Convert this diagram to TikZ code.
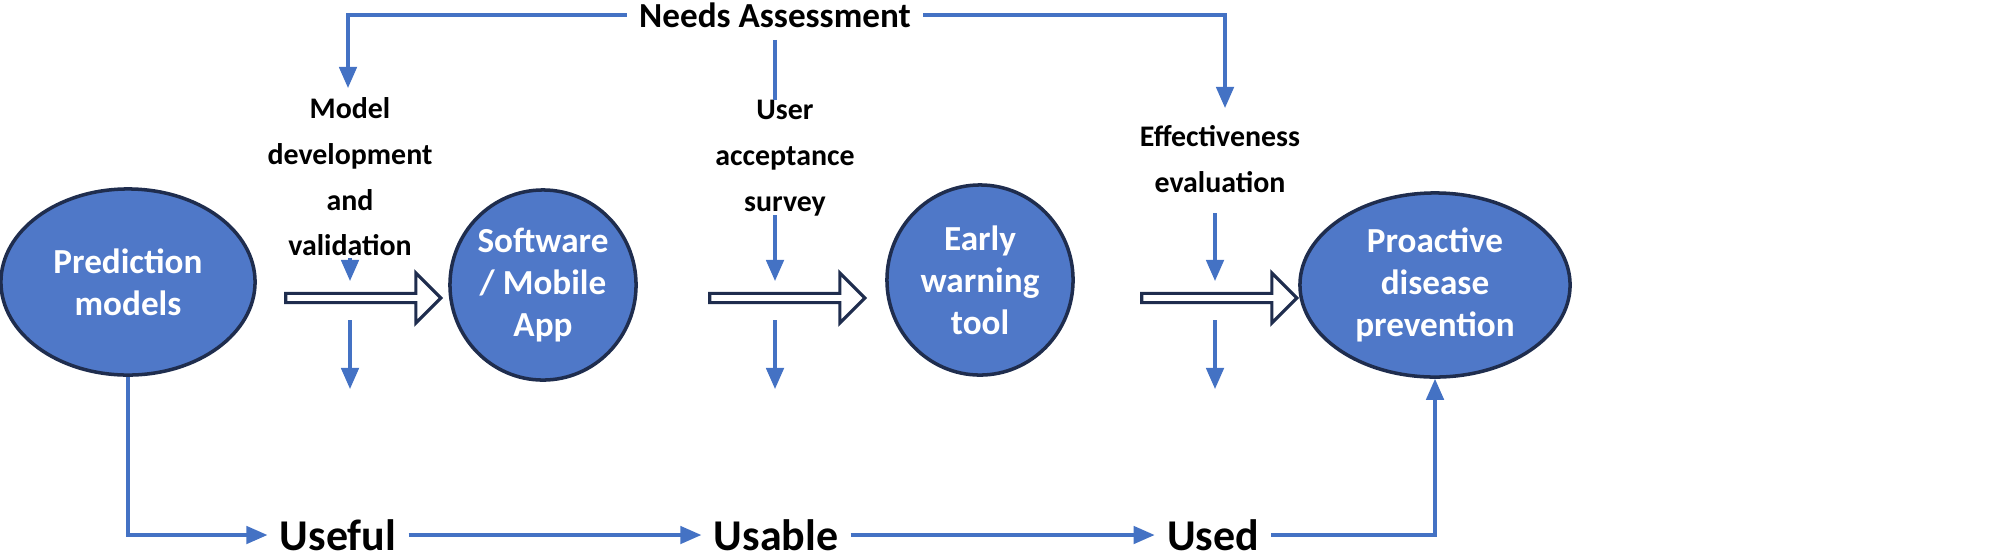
\documentclass[tikz,border=0pt]{standalone}
\usepackage{fontspec}
\setmainfont{Carlito}
\usetikzlibrary{shapes.geometric, shapes.arrows, arrows.meta, positioning}
\definecolor{fillblue}{HTML}{4F78C8}
\definecolor{edgenavy}{HTML}{1F2D4E}
\definecolor{linkblue}{HTML}{4472C4}
\begin{document}
\begin{tikzpicture}[
    x=0.01cm, y=-0.01cm,
    % Styles
    stage/.style={ellipse, draw=edgenavy, line width=1pt, fill=fillblue, inner sep=0pt, align=center, text=white, font=\bfseries\fontsize{10}{12}\selectfont},
    task/.style={align=center, font=\bfseries\fontsize{8.5}{13}\selectfont},
    goal/.style={font=\bfseries\fontsize{12.5}{14}\selectfont},
    move/.style={single arrow, draw=edgenavy, fill=white, line width=0.9pt, minimum width=0.5cm, single arrow head extend=0.07cm, single arrow head indent=0pt, minimum height=1.55cm, inner sep=0pt},
    arrow/.style={-{Triangle[width=5pt,length=6pt]}, linkblue, line width=0.9pt},
    link/.style={linkblue, line width=0.9pt}
]
    \useasboundingbox (0,0) rectangle (2001,557);

    % Stages
    \node[stage, minimum width=2.54cm, minimum height=1.86cm] (predict) at (128,282) {Prediction\\models};
    \node[stage, minimum width=1.86cm, minimum height=1.9cm] (software) at (543,285) {Software\\/ Mobile\\App};
    \node[stage, minimum width=1.86cm, minimum height=1.9cm] (early) at (980,280) {Early\\warning\\tool};
    \node[stage, minimum width=2.7cm, minimum height=1.84cm] (proactive) at (1435,285) {Proactive\\disease\\prevention};

    % Hollow arrows
    \node[move] (moveA) at (361,298) {};
    \node[move] (moveB) at (785,298) {};
    \node[move] (moveC) at (1217,298) {};

    % Labels
    \node[task] (needs) at (775,15) {\fontsize{10}{12}\selectfont Needs Assessment};
    \node[task] (model) at (350,177) {Model\\development\\and\\validation};
    \node[task] (accept) at (785,158) {User\\acceptance\\survey};
    \node[task] (effect) at (1220,159) {Effectiveness\\evaluation};

    \node[goal] (useful) at (338,535) {Useful};
    \node[goal] (usable) at (776,535) {Usable};
    \node[goal] (used) at (1213,535) {Used};

    % Needs assessment branches
    \coordinate (topL) at (348,15);
    \coordinate (topR) at (1225,15);
    \draw[arrow] (needs.west) -- (topL) -- (348,88);
    \draw[arrow] (needs.east) -- (topR) -- (1225,108);
    \draw[link] (needs.south) -- (775,100);

    % Into hollow arrows
    \draw[arrow] (350,258) -- (350,281);
    \draw[arrow] (775,215) -- (775,281);
    \draw[arrow] (1215,213) -- (1215,281);

    % Down to outcomes
    \draw[arrow] (350,320) -- (350,389);
    \draw[arrow] (775,320) -- (775,389);
    \draw[arrow] (1215,320) -- (1215,389);

    % Bottom chain
    \draw[arrow] (predict.south) |- (useful.west);
    \draw[arrow] (useful.east) -- (usable.west);
    \draw[arrow] (usable.east) -- (used.west);
    \draw[arrow] (used.east) -| (proactive.south);
\end{tikzpicture}
\end{document}
